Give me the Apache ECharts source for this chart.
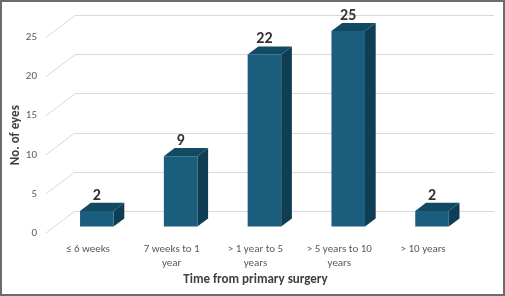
<!DOCTYPE html>
<html><head><meta charset="utf-8">
<script src="https://cdn.jsdelivr.net/npm/echarts@6/dist/echarts.min.js"></script>
<style>html,body{margin:0;padding:0;background:#fff}#wrap{position:relative;width:505px;height:296px}#c{width:505px;height:296px}#b{position:absolute;left:0;top:0;width:505px;height:296px;box-sizing:border-box;border:2px solid #6b6b6b;pointer-events:none}</style>
</head><body><div id="wrap"><div id="c"></div><div id="b"></div></div>
<script>
var categories = ['≤ 6 weeks', '7 weeks to 1\nyear', '> 1 year to 5\nyears', '> 5 years to 10\nyears', '> 10 years'];
var values = [2, 9, 22, 25, 2];
var yTicks = [0, 5, 10, 15, 20, 25];

var DX = 29, DY = -22; // depth projection of the floor
var chart = echarts.init(document.getElementById('c'));
var font = 'Carlito, Calibri, Lato, "Open Sans", sans-serif';

function renderBar(params, api) {
  var i = api.value(0), v = api.value(1);
  var base = api.coord([i, 0]);
  var top = api.coord([i, v]);
  var bw = api.size([1, 0])[0] * 0.4;
  var d0 = 0.29, d1 = 0.66;
  var fx0 = base[0] + DX * d0 - bw / 2 + 0.5, fx1 = fx0 + bw;
  var fyB = base[1] + DY * d0, fyT = top[1] + DY * d0;
  var ox = DX * (d1 - d0), oy = DY * (d1 - d0);
  return {
    type: 'group',
    children: [
      {type: 'polygon', shape: {points: [[fx1, fyB], [fx1 + ox, fyB + oy], [fx1 + ox, fyT + oy], [fx1, fyT]]}, style: {fill: '#0f3e54'}},
      {type: 'polygon', shape: {points: [[fx0, fyT], [fx1, fyT], [fx1 + ox, fyT + oy], [fx0 + ox, fyT + oy]]}, style: {fill: '#124a63'}},
      {type: 'rect', shape: {x: fx0, y: fyT, width: bw, height: fyB - fyT}, style: {fill: '#1a5d7c'}},
      {type: 'text', style: {text: String(v), x: fx0 + bw / 2, y: fyT + oy + 1, align: 'center', verticalAlign: 'bottom',
        font: 'bold 16px ' + font, fill: '#333333'}}
    ]
  };
}

function renderDiag(params, api) {
  var v = api.value(1);
  var p = api.coord([0, v]);
  var x0 = params.coordSys.x;
  return {type: 'line', shape: {x1: x0, y1: p[1], x2: x0 + DX, y2: p[1] + DY}, style: {stroke: '#d9d9d9', lineWidth: 1}};
}

chart.setOption({
  animation: false,
  grid: [
    {left: 46, right: 40, top: 37.5, bottom: 63, containLabel: false, outerBoundsMode: 'none'},
    {left: 75, right: 11, top: 15.5, bottom: 85, containLabel: false, outerBoundsMode: 'none'}
  ],
  xAxis: [
    {type: 'category', gridIndex: 0, data: categories, axisLine: {show: false}, axisTick: {show: false},
      axisLabel: {color: '#595959', fontSize: 11, fontFamily: font, margin: 9, lineHeight: 14, interval: 0},
      name: 'Time from primary surgery', nameLocation: 'middle', nameGap: 40, nameMoveOverlap: false,
      nameTextStyle: {fontWeight: 'bold', fontSize: 13, color: '#404040', fontFamily: font}},
    {type: 'category', gridIndex: 1, data: categories, show: false}
  ],
  yAxis: [
    {type: 'value', gridIndex: 0, min: 0, max: 25, interval: 5, splitLine: {show: false},
      axisLine: {show: false}, axisTick: {show: false},
      axisLabel: {color: '#595959', fontSize: 11, fontFamily: font, margin: 9},
      name: 'No. of eyes', nameLocation: 'middle', nameGap: 24, nameMoveOverlap: false,
      nameTextStyle: {fontWeight: 'bold', fontSize: 13, color: '#404040', fontFamily: font}},
    {type: 'value', gridIndex: 1, min: 0, max: 25, interval: 5, axisLabel: {show: false},
      axisLine: {show: false}, axisTick: {show: false}, splitLine: {lineStyle: {color: '#d9d9d9', width: 1}}}
  ],
  series: [
    {type: 'custom', xAxisIndex: 0, yAxisIndex: 0, renderItem: renderDiag, silent: true,
      data: yTicks.map(function (t) { return [0, t]; }), z: 1},
    {type: 'custom', xAxisIndex: 0, yAxisIndex: 0, renderItem: renderBar,
      data: values.map(function (v, i) { return [i, v]; }), z: 5}
  ]
});
</script></body></html>
